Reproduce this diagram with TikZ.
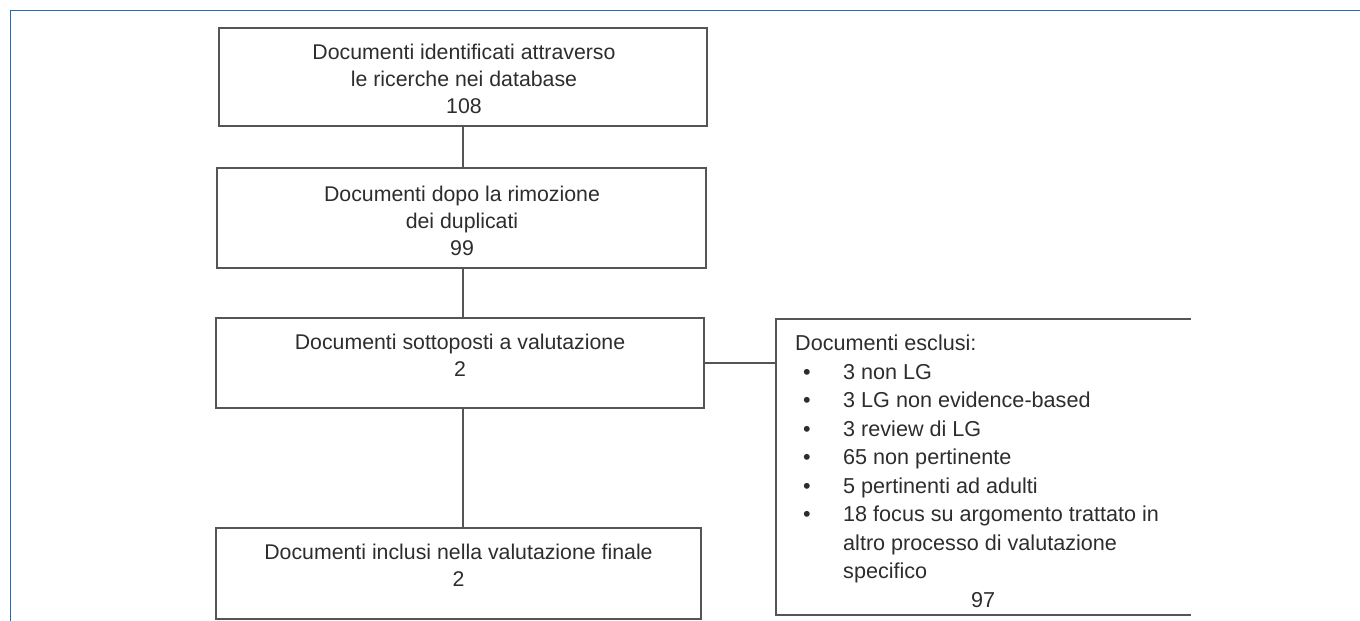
\documentclass[tikz,border=0pt]{standalone}
\usepackage{fontspec}
\setmainfont{Liberation Sans}
\begin{document}
\begin{tikzpicture}[x=1pt,y=-1pt,
  framecol/.style={draw={rgb,255:red,35;green,105;blue,180}, line width=1.5pt},
  box/.style={draw=boxgray, line width=1.8pt, rectangle, inner sep=0pt},
  link/.style={draw=boxgray, line width=1.7pt},
  boxtext/.style={text=textgray, font=\fontsize{21.3}{27}\selectfont, align=center, inner sep=0pt, anchor=north},
  listtext/.style={text=textgray, font=\fontsize{21.6}{28.5}\selectfont, align=left, inner sep=0pt, anchor=north west}
]
\definecolor{boxgray}{RGB}{85,85,85}
\definecolor{textgray}{RGB}{45,45,45}
\useasboundingbox (0,0) rectangle (1360,621);

% outer frame (top and left edges)
\draw[framecol] (10.5,621) -- (10.5,10.7) -- (1360,10.7);

% main column of boxes
\node[box, minimum width=488pt, minimum height=98pt] (b1) at (463,77) {};
\node[box, minimum width=489pt, minimum height=100pt] (b2) at (461.5,218) {};
\node[box, minimum width=488pt, minimum height=90pt] (b3) at (460,363) {};
\node[box, minimum width=485pt, minimum height=91pt] (b4) at (458.5,573.5) {};

\node[boxtext] (t1) at (464,44) {Documenti identificati attraverso\\le ricerche nei database\\108};
\node[boxtext] (t2) at (462,186) {Documenti dopo la rimozione\\dei duplicati\\99};
\node[boxtext] (t3) at (460,334) {Documenti sottoposti a valutazione\\2};
\node[boxtext] (t4) at (458.5,544) {Documenti inclusi nella valutazione finale\\2};

% excluded documents box (open on the right)
\node[minimum width=415pt, minimum height=296pt, inner sep=0pt] (ex) at (983.5,467) {};
\draw[link] (ex.north east) -- (ex.north west) -- (ex.south west) -- (ex.south east);
\node[listtext] (tx) at (795,335) {Documenti esclusi:\\
\hspace*{8pt}\makebox[40pt][l]{•}3 non LG\\
\hspace*{8pt}\makebox[40pt][l]{•}3 LG non evidence-based\\
\hspace*{8pt}\makebox[40pt][l]{•}3 review di LG\\
\hspace*{8pt}\makebox[40pt][l]{•}65 non pertinente\\
\hspace*{8pt}\makebox[40pt][l]{•}5 pertinenti ad adulti\\
\hspace*{8pt}\makebox[40pt][l]{•}18 focus su argomento trattato in\\
\hspace*{48pt}altro processo di valutazione\\
\hspace*{48pt}specifico\\
\makebox[376pt]{97}};

% connectors
\draw[link] (b1.south) -- (b1.south |- b2.north);
\draw[link] (b2.south -| b1.south) -- (b3.north -| b1.south);
\draw[link] (b3.south -| b1.south) -- (b4.north -| b1.south);
\draw[link] (b3.east) -- (b3.east -| ex.west);
\end{tikzpicture}
\end{document}
